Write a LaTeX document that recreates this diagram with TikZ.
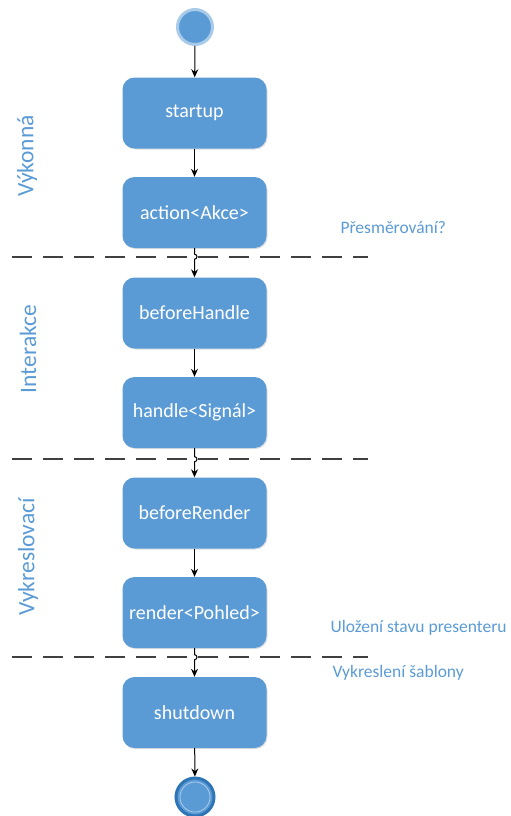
\documentclass[tikz,border=0pt]{standalone}
\usepackage{fontspec}
\setmainfont{Carlito}
\usetikzlibrary{arrows.meta,shadows}
\definecolor{boxblue}{HTML}{5B9BD5}
\definecolor{ringlight}{HTML}{A9CBEA}
\definecolor{ringdark}{HTML}{2E75B6}
\definecolor{labblue}{HTML}{5B9BD5}
\begin{document}
\begin{tikzpicture}[x=1pt,y=-1pt,
  stepbox/.style={draw=none,fill=boxblue,rounded corners=12pt,minimum width=144pt,minimum height=71pt,
    text=white,font=\fontsize{20}{24}\selectfont,drop shadow={shadow xshift=1pt,shadow yshift=-1pt,opacity=0.25}},
  conn/.style={-{Stealth[length=8pt,width=7pt]},line width=1pt,black},
  sep/.style={dash pattern=on 20pt off 11pt,line width=1.2pt,black!75},
  lab/.style={text=labblue,font=\fontsize{17.5}{20}\selectfont,anchor=west},
  side/.style={text=labblue,font=\fontsize{23.5}{26}\selectfont,rotate=90}]
\useasboundingbox (0,0) rectangle (511,816);
% start
\node[circle,fill=boxblue,draw=ringlight,line width=3pt,minimum size=35pt,inner sep=0pt] (s) at (195,27) {};
\node[stepbox] (n1) at (194.5,113) {startup};
\node[stepbox] (n2) at (194.5,212.5) {action<Akce>};
\node[stepbox] (n3) at (194.5,313) {beforeHandle};
\node[stepbox] (n4) at (194.5,412.5) {handle<Signál>};
\node[stepbox] (n5) at (194.5,513) {beforeRender};
\node[stepbox] (n6) at (194.5,612.5) {render<Pohled>};
\node[stepbox] (n7) at (194.5,712.5) {shutdown};
\node[circle,fill=boxblue,draw=ringdark,line width=3pt,minimum size=38pt,inner sep=0pt] (e) at (195,797) {};
\node[circle,draw=ringlight,line width=0.8pt,minimum size=30pt,inner sep=0pt] at (e) {};
% separators
\coordinate (d1a) at (12,257); \coordinate (d1b) at (368,257);
\coordinate (d2a) at (12,459); \coordinate (d2b) at (368,459);
\coordinate (d3a) at (12,657); \coordinate (d3b) at (368,657);
\draw[sep] (d1a) -- (d1b);
\draw[sep] (d2a) -- (d2b);
\draw[sep] (d3a) -- (d3b);
% connectors
\draw[conn] (s) -- (n1);
\draw[conn] (n1) -- (n2);
\draw[conn] (n2.south) -- ++(0,6) arc[start angle=-90,end angle=90,radius=2.5] -- (n3.north);
\draw[conn] (n3) -- (n4);
\draw[conn] (n4.south) -- ++(0,8.5) arc[start angle=-90,end angle=90,radius=2.5] -- (n5.north);
\draw[conn] (n5) -- (n6);
\draw[conn] (n6.south) -- ++(0,6.5) arc[start angle=-90,end angle=90,radius=2.5] -- (n7.north);
\draw[conn] (n7) -- (e);
% labels
\node[lab] (l1) at (337,228) {Přesměrování?};
\node[lab] (l2) at (327,628) {Uložení stavu presenteru};
\node[lab] (l3) at (329,673) {Vykreslení šablony};
\node[side] (v1) at (27,156) {Výkonná};
\node[side] (v2) at (28,349) {Interakce};
\node[side] (v3) at (28,557) {Vykreslovací};
\end{tikzpicture}
\end{document}
